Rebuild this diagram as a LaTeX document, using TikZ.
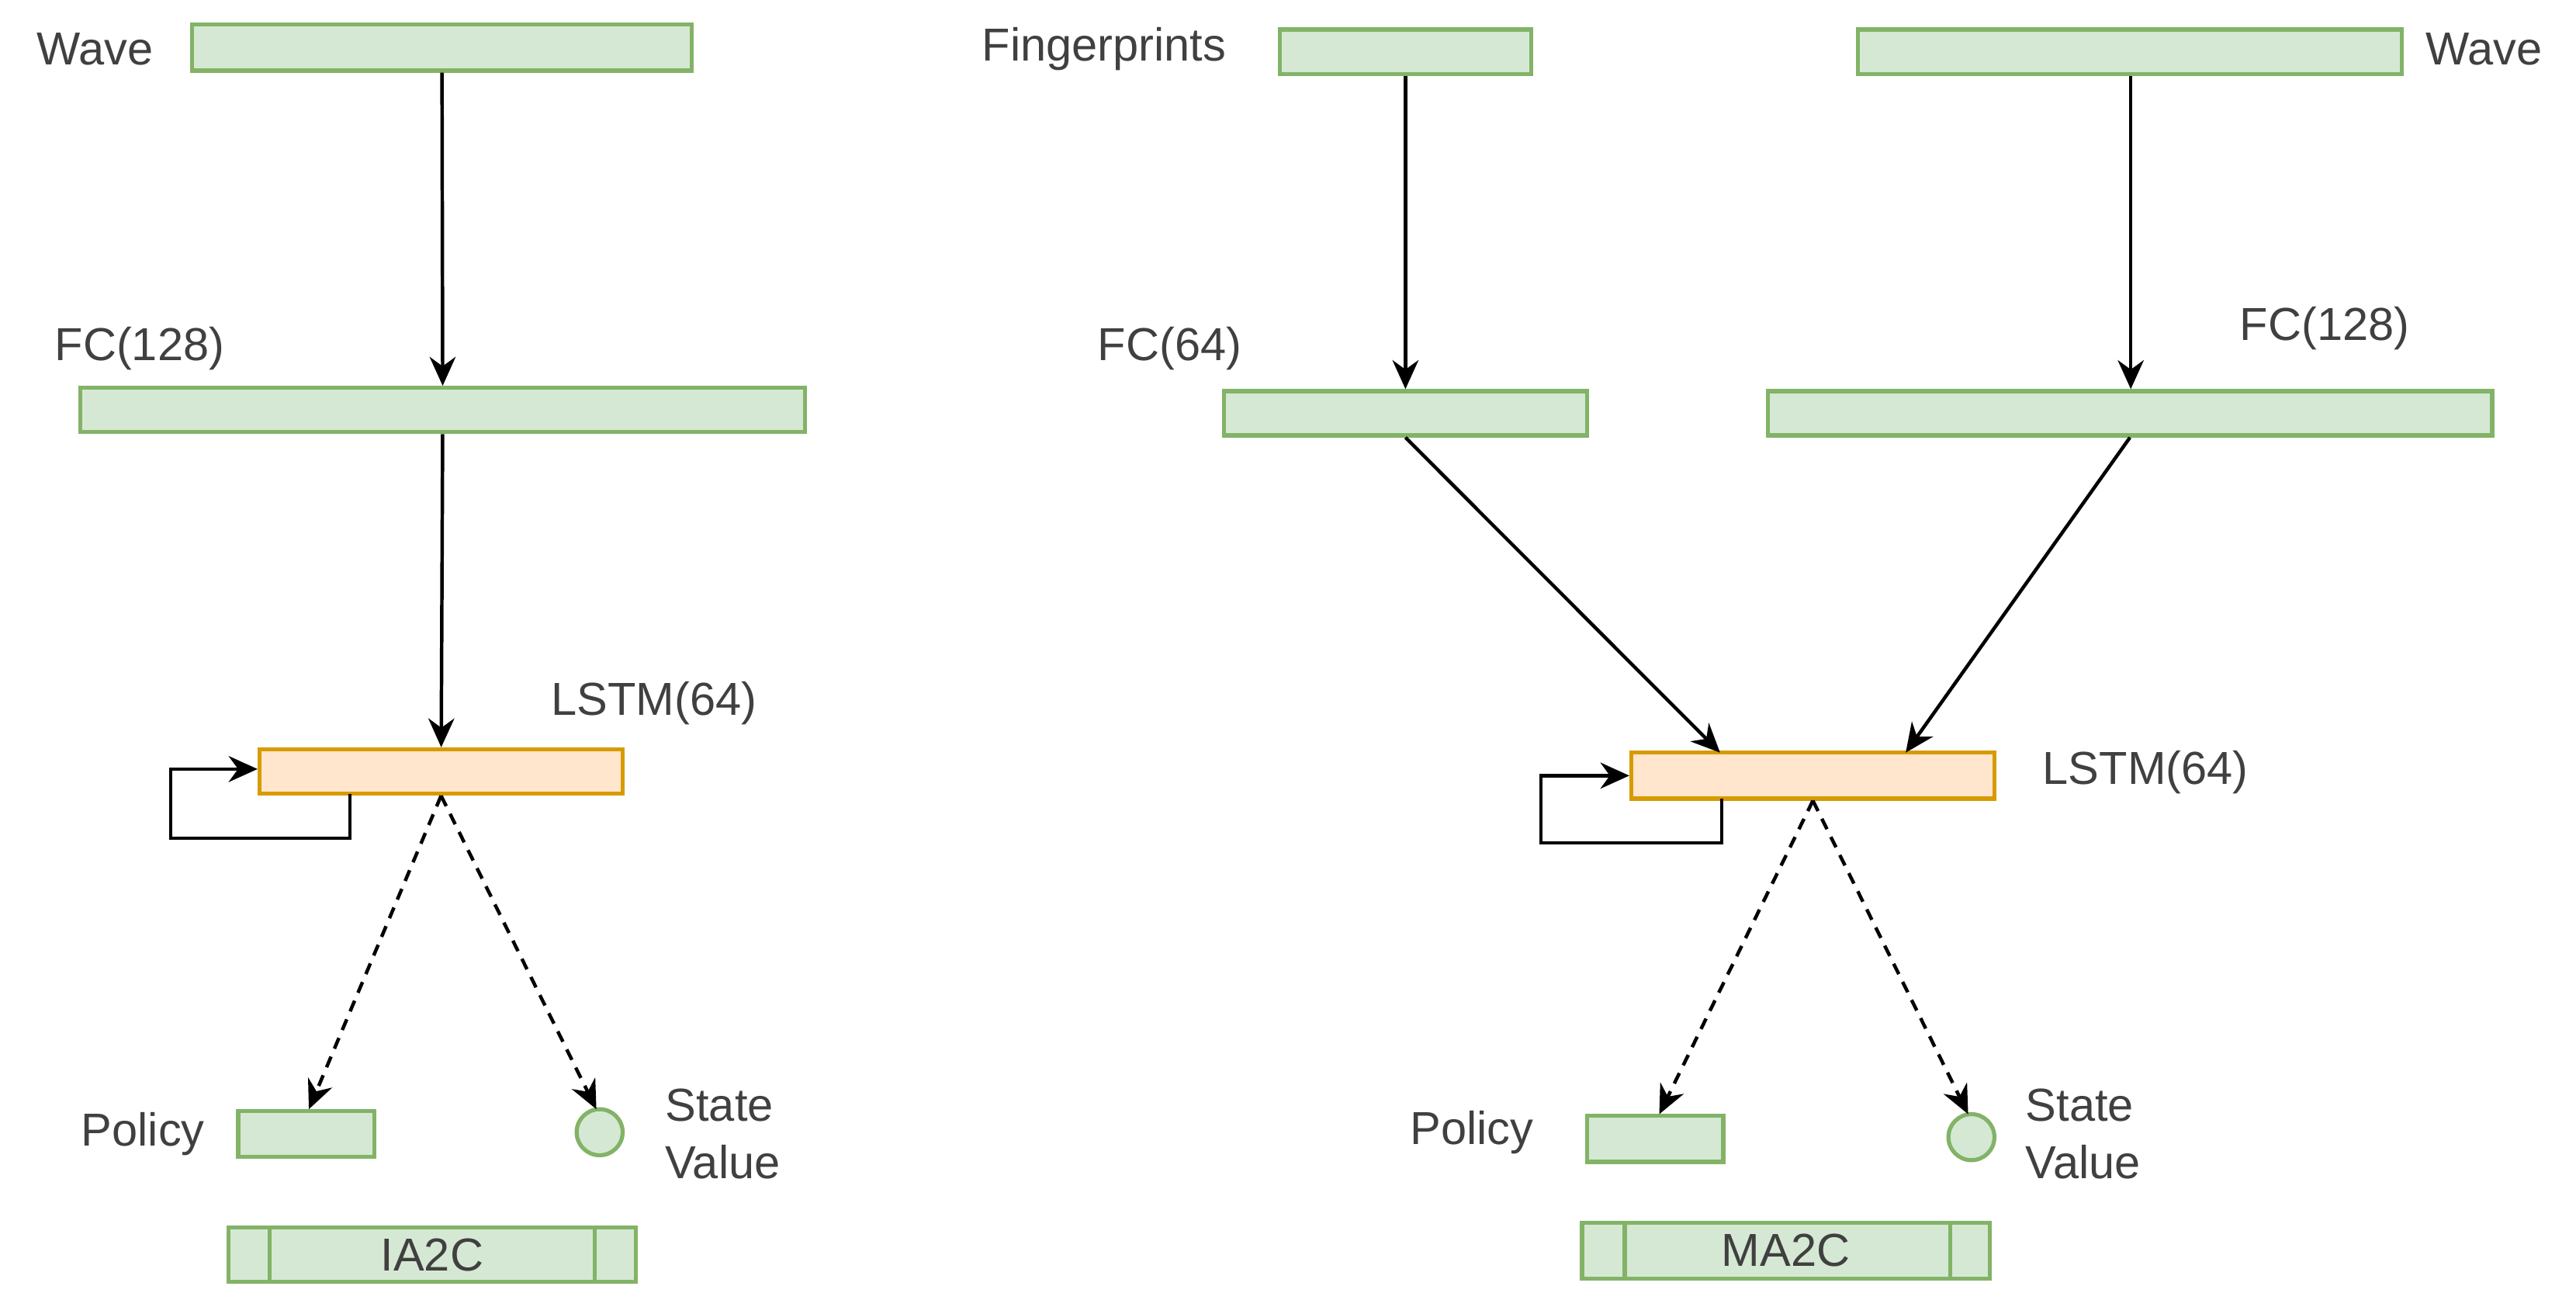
\documentclass[tikz,border=0pt]{standalone}
\usepackage{fontspec}
\setmainfont{Liberation Sans}
\usetikzlibrary{fit,arrows.meta}
\definecolor{gfill}{HTML}{D5E8D4}
\definecolor{gline}{HTML}{82B366}
\definecolor{ofill}{HTML}{FFE6CC}
\definecolor{oline}{HTML}{D79B00}
\tikzset{
  gbox/.style={draw=gline, fill=gfill, line width=0.7pt, inner sep=0pt},
  obox/.style={draw=oline, fill=ofill, line width=0.7pt, inner sep=0pt},
  lbl/.style={font=\fontsize{8}{9}\selectfont, text=black!75, inner sep=0pt},
  flow/.style={-{Stealth[length=5pt,width=4.5pt]}, line width=0.6pt},
  soft/.style={flow, dashed, dash pattern=on 2pt off 1.5pt}
}
\begin{document}
\begin{tikzpicture}[x=0.01cm, y=-0.01cm]
\useasboundingbox (0,0) rectangle (1568,795);

    %IA2C
    \node[gbox, fit={(117,15)(421,43)}] (waveA) {};
    \node[lbl] (waveAl) at (58,30) {Wave};
    \node[gbox, fit={(49,236)(490,263)}] (fcA) {};
    \node[lbl] (fcAl) at (85,212) {FC(128)};
    \node[obox, fit={(158,456)(379,483)}] (lstmA) {};
    \node[lbl] (lstmAl) at (398,428) {LSTM(64)};
    \node[gbox, fit={(145,676)(228,704)}] (polA) {};
    \node[lbl] (polAl) at (87,690) {Policy};
    \node[gbox, circle, minimum size=0.28cm] (valA) at (365,689) {};
    \node[lbl, align=left] (valAl) at (440,690) {State\\[1pt]Value};
    \node[gbox, fit={(139,747)(387,780)}] (tagA) {};
    \draw[gline, line width=0.7pt] (164,747) -- (164,780) (362,747) -- (362,780);
    \node[lbl] at (tagA) {IA2C};

    \draw[flow] (waveA) -- (fcA);
    \draw[flow] (fcA) -- (lstmA);
    \coordinate (loopA) at (213,483);
    \draw[flow] (loopA) -- (213,510) -- (104,510) -- (104,468) -- (lstmA.west |- 0,468);
    \draw[soft] (lstmA.south) -- (188,675);
    \draw[soft] (lstmA.south) -- (363,675);

    %MA2C
    \node[gbox, fit={(779,18)(932,45)}] (fpB) {};
    \node[lbl] (fpBl) at (672,30) {Fingerprints};
    \node[gbox, fit={(1131,18)(1462,45)}] (waveB) {};
    \node[lbl] (waveBl) at (1512,30) {Wave};
    \node[gbox, fit={(745,238)(966,265)}] (fcB) {};
    \node[lbl] (fcBl) at (712,212) {FC(64)};
    \node[gbox, fit={(1076,238)(1517,265)}] (fcC) {};
    \node[lbl] (fcCl) at (1415,200) {FC(128)};
    \node[obox, fit={(993,458)(1214,486)}] (lstmB) {};
    \node[lbl] (lstmBl) at (1306,470) {LSTM(64)};
    \node[gbox, fit={(966,679)(1049,707)}] (polB) {};
    \node[lbl] (polBl) at (896,689) {Policy};
    \node[gbox, circle, minimum size=0.28cm] (valB) at (1200,692) {};
    \node[lbl, align=left] (valBl) at (1268,690) {State\\[1pt]Value};
    \node[gbox, fit={(963,744)(1211,778)}] (tagB) {};
    \draw[gline, line width=0.7pt] (989,744) -- (989,778) (1187,744) -- (1187,778);
    \node[lbl] at (tagB) {MA2C};

    \draw[flow] (fpB) -- (fcB);
    \draw[flow] (waveB.south -| 1297,0) -- (fcC.north -| 1297,0);
    \draw[flow] (fcB.south) -- (1047,458);
    \draw[flow] (fcC.south) -- (1160,458);
    \coordinate (loopB) at (1048,486);
    \draw[flow] (loopB) -- (1048,513) -- (938,513) -- (938,472) -- (lstmB.west |- 0,472);
    \draw[soft] (lstmB.south) -- (1010,678);
    \draw[soft] (lstmB.south) -- (1198,678);
\end{tikzpicture}
\end{document}
